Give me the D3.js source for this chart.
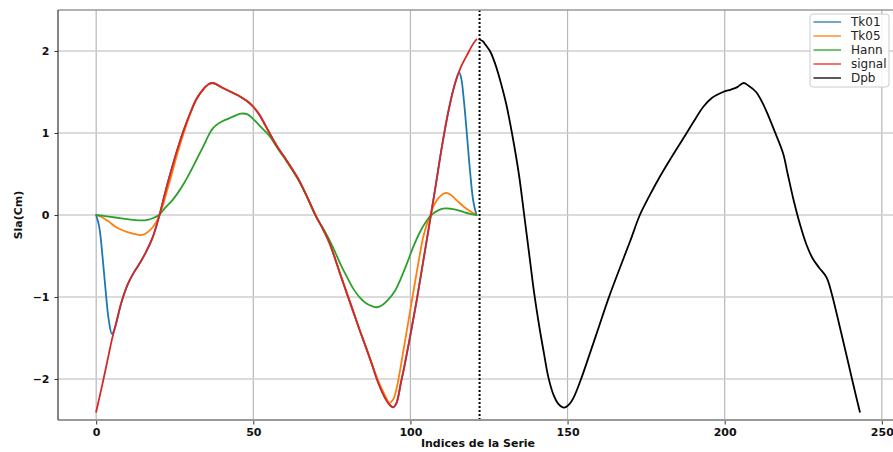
<!DOCTYPE html>
<html>
<head>
<meta charset="utf-8">
<script src="https://cdn.jsdelivr.net/npm/d3@7"></script>
<style>
  html, body { margin: 0; padding: 0; background: #fff; overflow: hidden; }
  svg { display: block; font-family: "DejaVu Sans", sans-serif; }
</style>
</head>
<body>
<svg id="chart" width="893" height="452"></svg>
<script>
// ---------------- DATA ----------------
const seriesNames = ["Tk01", "Tk05", "Hann", "signal", "Dpb"];
const xTicks = [0, 50, 100, 150, 200, 250];
const yTicks = [-2, -1, 0, 1, 2];
const splitIndex = 122;

const signalIdx = [0,2,4,5,6,8,10,12,14,16,18,20,22,24,26,28,30,32,34,36,37,38,40,43,46,48,50,52,54,56,58,60,64,67,70,72,74,76,78,80,82,84,86,88,89.3,91,92.5,93.5,94.5,95.5,97,98,100,102,104,106,108,110,112,114,116,118,120,121];
const signalVal = [-2.40,-2.06,-1.70,-1.52,-1.37,-1.07,-0.85,-0.70,-0.58,-0.44,-0.27,-0.02,0.28,0.56,0.82,1.05,1.25,1.42,1.53,1.60,1.61,1.60,1.555,1.50,1.44,1.39,1.32,1.22,1.08,0.94,0.81,0.70,0.46,0.23,-0.02,-0.16,-0.32,-0.53,-0.76,-0.98,-1.20,-1.42,-1.63,-1.85,-2.00,-2.16,-2.27,-2.32,-2.345,-2.30,-2.04,-1.86,-1.46,-1.04,-0.58,-0.12,0.35,0.83,1.25,1.58,1.80,1.95,2.09,2.14];

const tk01Idx = [0,1,2,3,4,5,6,8,10,12,14,16,18,20,22,24,26,28,30,32,34,36,37,38,40,43,46,48,50,52,54,56,58,60,64,67,70,72,74,76,78,80,82,84,86,88,89.3,91,92.5,93.5,94.5,95.5,97,98,100,102,104,106,108,110,112,114,115.5,116.2,117,118,119,120,121];
const tk01Val = [0,-0.15,-0.50,-0.92,-1.28,-1.45,-1.37,-1.07,-0.85,-0.70,-0.58,-0.44,-0.27,-0.02,0.28,0.56,0.82,1.05,1.25,1.42,1.53,1.60,1.61,1.60,1.555,1.50,1.44,1.39,1.32,1.22,1.08,0.94,0.81,0.70,0.46,0.23,-0.02,-0.16,-0.32,-0.53,-0.76,-0.98,-1.20,-1.42,-1.63,-1.85,-2.00,-2.16,-2.27,-2.32,-2.345,-2.30,-2.04,-1.86,-1.46,-1.04,-0.58,-0.12,0.35,0.83,1.25,1.58,1.74,1.66,1.40,0.97,0.52,0.17,0];

const tk05Idx = [0,2,4,6,8,10,12,14,15,16,18,20,22,24,26,28,30,32,34,36,37,38,40,43,46,48,50,52,54,56,58,60,64,67,70,72,74,76,78,80,82,84,86,88,89.3,91,92.3,93.3,94.5,95.5,96.2,98,100,102,103,104,105,106.3,107.5,109,110.5,111.5,113,115,117,119,121];
const tk05Val = [0,-0.03,-0.08,-0.14,-0.18,-0.21,-0.23,-0.245,-0.24,-0.22,-0.15,-0.02,0.22,0.49,0.77,1.02,1.24,1.42,1.53,1.60,1.61,1.60,1.555,1.50,1.44,1.39,1.32,1.22,1.08,0.94,0.81,0.70,0.46,0.23,-0.02,-0.16,-0.32,-0.53,-0.76,-0.98,-1.20,-1.42,-1.63,-1.84,-1.98,-2.13,-2.23,-2.29,-2.25,-2.13,-2.00,-1.60,-1.15,-0.70,-0.48,-0.28,-0.14,0.00,0.12,0.21,0.26,0.27,0.24,0.17,0.10,0.045,0];

const hannIdx = [0,4,8,12,15.5,18,20,22,24,26,28,30,32,34,36,37,38,40,43,46,48,50,52,55,58,60,64,67,70,72,74,76,78,80,82,84,86,88,89.3,91,93,95,97,99,101,103,105,107,109,111,113,115,117,119,121];
const hannVal = [0,-0.02,-0.04,-0.06,-0.065,-0.04,0.00,0.09,0.17,0.27,0.39,0.53,0.68,0.83,0.99,1.05,1.09,1.14,1.19,1.235,1.23,1.17,1.09,0.97,0.80,0.69,0.45,0.23,-0.02,-0.15,-0.29,-0.45,-0.62,-0.77,-0.91,-1.01,-1.08,-1.115,-1.125,-1.10,-1.03,-0.93,-0.77,-0.58,-0.38,-0.21,-0.08,0.01,0.06,0.08,0.075,0.06,0.035,0.015,0];

const dpbIdx = [122,123,124,125.3,127,129,130.5,132.3,134.5,136.2,138,139.4,141,142.5,143.9,145.5,147,148.9,150.5,152,154.3,157,160,163,166.7,170,173,176,179.4,183,187.9,190,193.2,196,199.5,202,204,206,207.5,210,212,214,216,218.6,220,222,224,226,228,230,232.4,234,236.6,239,241,243];
const dpbVal = [2.14,2.12,2.07,2.00,1.84,1.58,1.35,1.00,0.50,0.00,-0.54,-0.96,-1.36,-1.69,-1.98,-2.19,-2.30,-2.35,-2.31,-2.22,-2.00,-1.70,-1.36,-1.02,-0.64,-0.31,0.00,0.23,0.47,0.70,1.00,1.13,1.32,1.43,1.50,1.53,1.56,1.61,1.58,1.50,1.37,1.20,1.01,0.75,0.51,0.17,-0.12,-0.36,-0.53,-0.64,-0.76,-0.95,-1.36,-1.75,-2.08,-2.40];

const seriesColors = ["#1f77b4", "#ff7f0e", "#2ca02c", "#d62728", "#000000"];
const legendColors = ["#1f77b4", "#ff7f0e", "#2ca02c", "#ee2222", "#000000"];

// ---------------- LAYOUT ----------------
const svg = d3.select("#chart");
const plot = { left: 58, top: 10, right: 898, bottom: 420 };

const x = d3.scaleLinear().domain([-12.15, 255.15]).range([plot.left, plot.right]);
const y = d3.scaleLinear().domain([-2.5, 2.5]).range([plot.bottom, plot.top]);

svg.append("defs").append("clipPath").attr("id", "clip")
  .append("rect").attr("x", plot.left).attr("y", plot.top)
  .attr("width", plot.right - plot.left).attr("height", plot.bottom - plot.top);

// grid
const grid = svg.append("g");
grid.selectAll(".vg").data(xTicks).enter().append("line")
  .attr("x1", d => x(d)).attr("x2", d => x(d))
  .attr("y1", plot.top).attr("y2", plot.bottom)
  .attr("stroke", "#b8b8b8").attr("stroke-width", 1.2);
grid.selectAll(".hg").data(yTicks).enter().append("line")
  .attr("x1", plot.left).attr("x2", plot.right)
  .attr("y1", d => y(d)).attr("y2", d => y(d))
  .attr("stroke", "#cfcfcf").attr("stroke-width", 1.4);

// lines
const series = [
  { idx: tk01Idx, val: tk01Val },
  { idx: tk05Idx, val: tk05Val },
  { idx: hannIdx, val: hannVal },
  { idx: signalIdx, val: signalVal },
  { idx: dpbIdx, val: dpbVal }
];
const line = d3.line().x(d => x(d[0])).y(d => y(d[1])).curve(d3.curveCatmullRom.alpha(0.5));
const lines = svg.append("g").attr("clip-path", "url(#clip)");
series.forEach((s, i) => {
  const pts = s.idx.map((v, k) => [v, s.val[k]]);
  lines.append("path").datum(pts)
    .attr("d", line)
    .attr("fill", "none")
    .attr("stroke", seriesColors[i])
    .attr("stroke-width", 1.8)
    .attr("stroke-linejoin", "round")
    .attr("stroke-linecap", "round");
});

// dotted split line
svg.append("line")
  .attr("x1", x(splitIndex)).attr("x2", x(splitIndex))
  .attr("y1", plot.top).attr("y2", plot.bottom)
  .attr("stroke", "#000").attr("stroke-width", 2)
  .attr("stroke-dasharray", "2,2");

// spines
svg.append("line").attr("x1", plot.left).attr("x2", plot.right)
  .attr("y1", plot.top).attr("y2", plot.top).attr("stroke", "#999").attr("stroke-width", 1.5);
svg.append("line").attr("x1", plot.left).attr("x2", plot.right)
  .attr("y1", plot.bottom).attr("y2", plot.bottom).attr("stroke", "#999").attr("stroke-width", 1.8);
svg.append("line").attr("x1", plot.left).attr("x2", plot.left)
  .attr("y1", plot.top).attr("y2", plot.bottom).attr("stroke", "#333").attr("stroke-width", 1.2);

// axes
const fmt = d3.format("d");
const xAxis = d3.axisBottom(x).tickValues(xTicks).tickFormat(fmt).tickSize(3.5).tickPadding(4);
const yAxis = d3.axisLeft(y).tickValues(yTicks).tickFormat(fmt).tickSize(3.5).tickPadding(5);

const gx = svg.append("g").attr("transform", `translate(0,${plot.bottom + 1})`).call(xAxis);
const gy = svg.append("g").attr("transform", `translate(${plot.left},0)`).call(yAxis);
[gx, gy].forEach(g => {
  g.select(".domain").remove();
  g.selectAll(".tick line").attr("stroke", "#333").attr("stroke-width", 1);
  g.selectAll(".tick text")
    .attr("fill", "#111")
    .style("font-family", "'DejaVu Sans', sans-serif")
    .style("font-size", "11px")
    .style("font-weight", "bold");
});

// axis labels
svg.append("text")
  .attr("x", (plot.left + plot.right) / 2).attr("y", 447)
  .attr("text-anchor", "middle")
  .style("font-size", "11px").style("font-weight", "bold").attr("fill", "#111")
  .text("Indices de la Serie");
svg.append("text")
  .attr("transform", `translate(22,${(plot.top + plot.bottom) / 2}) rotate(-90)`)
  .attr("text-anchor", "middle")
  .style("font-size", "11px").style("font-weight", "bold").attr("fill", "#111")
  .text("Sla(Cm)");

// legend
const lg = svg.append("g").attr("transform", "translate(810,14)");
lg.append("rect").attr("x", 0).attr("y", 0).attr("width", 79).attr("height", 73)
  .attr("rx", 3).attr("fill", "#fff").attr("fill-opacity", 0.85)
  .attr("stroke", "#cccccc").attr("stroke-width", 1);
seriesNames.forEach((name, i) => {
  const yy = 8 + i * 14;
  lg.append("line").attr("x1", 3.5).attr("x2", 31).attr("y1", yy).attr("y2", yy)
    .attr("stroke", legendColors[i]).attr("stroke-width", 1.3);
  lg.append("text").attr("x", 41).attr("y", yy + 4.3)
    .style("font-size", "12px").attr("fill", "#222").text(name);
});
</script>
</body>
</html>
